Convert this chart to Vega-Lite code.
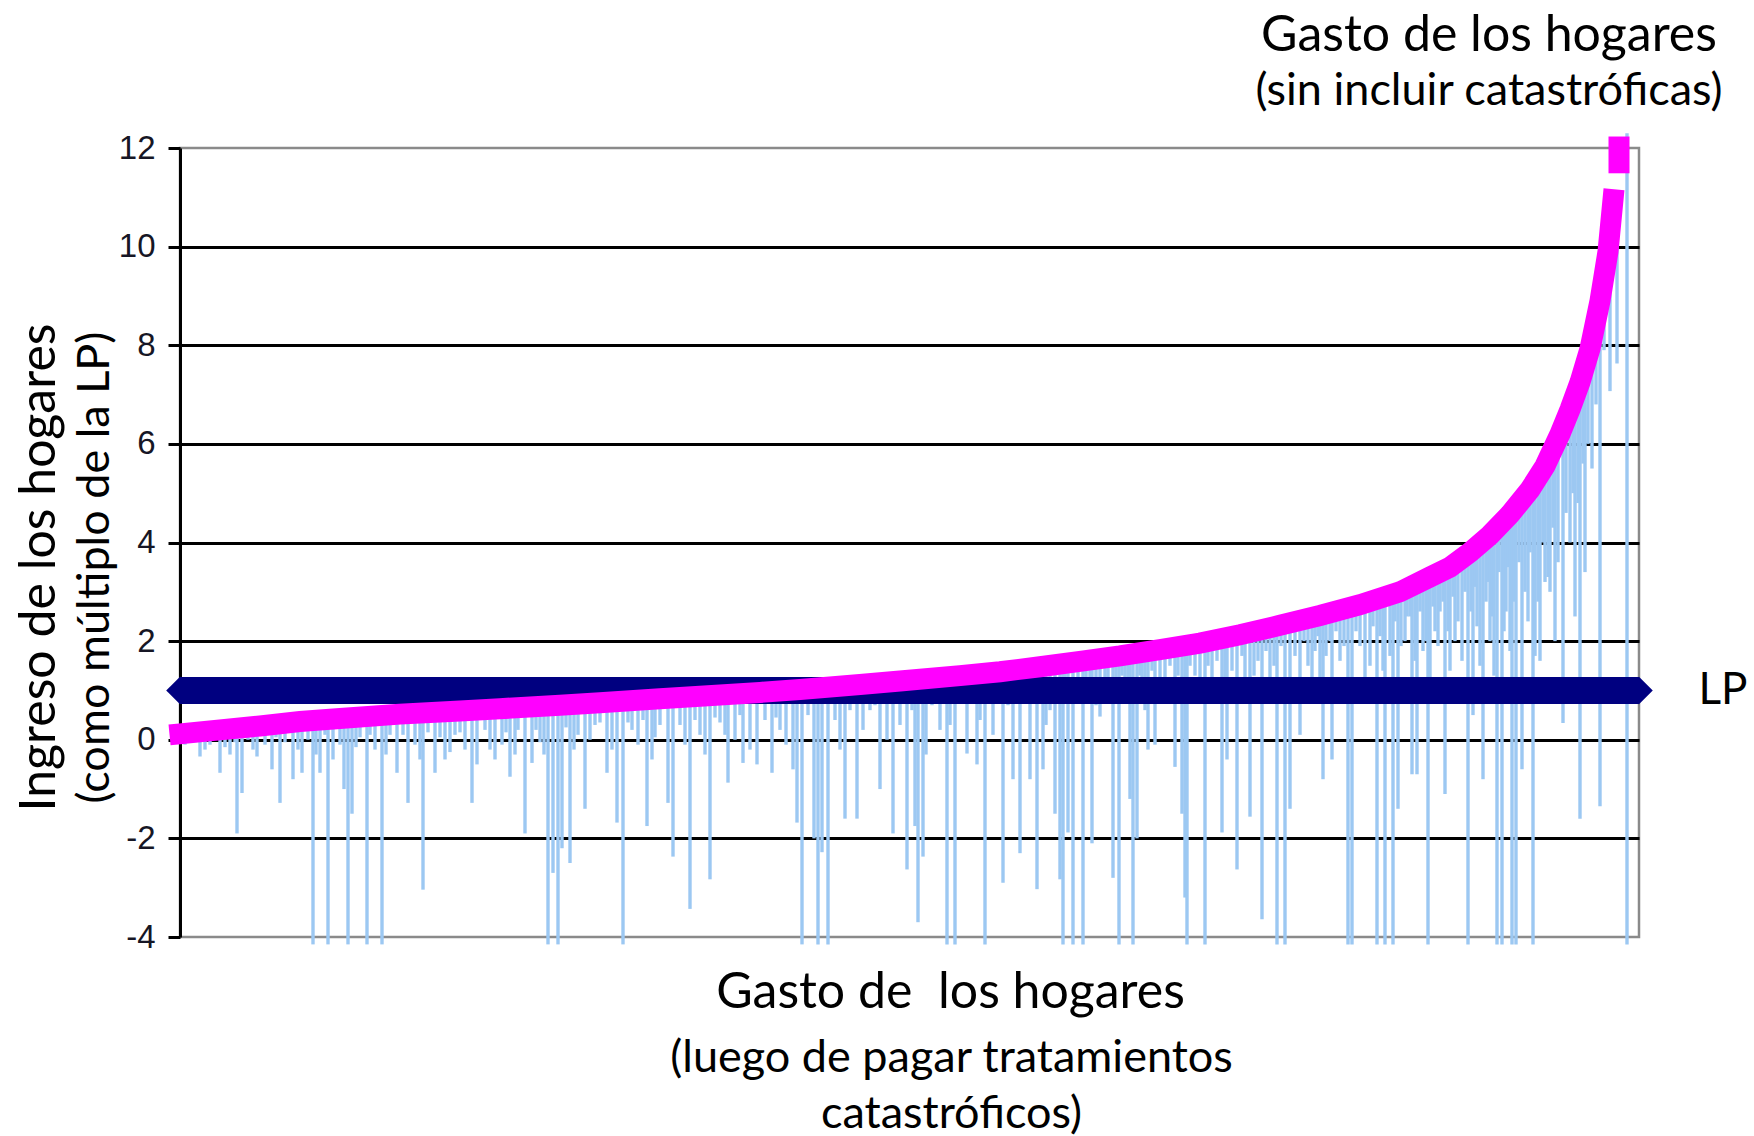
{
  "$schema": "https://vega.github.io/schema/vega-lite/v6.json",
  "width": 1459,
  "height": 789,
  "autosize": "none",
  "padding": {"left": 180, "top": 148, "right": 115, "bottom": 199},
  "background": "white",
  "config": {"view": {"stroke": "#8a8a8a", "strokeWidth": 2.5}},
  "title": {
    "text": "Gasto de los hogares",
    "subtitle": "(sin incluir catastróficas)",
    "anchor": "end",
    "align": "center",
    "dx": -150,
    "frame": "group",
    "font": "Lato",
    "fontSize": 50,
    "fontWeight": "normal",
    "color": "black",
    "subtitleFont": "Lato",
    "subtitleFontSize": 45,
    "subtitleColor": "black",
    "subtitlePadding": 8,
    "offset": -9
  },
  "datasets": {
    "barras": [
      {"h":5,"a":0.13,"b":-0.1},{"h":8,"a":0.135,"b":0.0},{"h":15,"a":0.15,"b":-0.05},{"h":20,"a":0.16,"b":-0.34},{"h":25,"a":0.17,"b":-0.2},{"h":30,"a":0.18,"b":-0.1},{"h":35,"a":0.19,"b":0.0},{"h":40,"a":0.2,"b":-0.67},{"h":45,"a":0.21,"b":-0.15},{"h":50,"a":0.22,"b":-0.3},{"h":55,"a":0.23,"b":-0.05},{"h":57,"a":0.23,"b":-1.9},{"h":62,"a":0.24,"b":-1.08},{"h":68,"a":0.26,"b":0.0},{"h":73,"a":0.27,"b":-0.2},{"h":77,"a":0.27,"b":-0.34},{"h":85,"a":0.29,"b":-0.1},{"h":92,"a":0.31,"b":-0.6},{"h":96,"a":0.32,"b":0.05},{"h":100,"a":0.33,"b":-1.28},{"h":105,"a":0.34,"b":-0.05},{"h":113,"a":0.36,"b":-0.8},{"h":118,"a":0.37,"b":-0.2},{"h":122,"a":0.37,"b":-0.67},{"h":128,"a":0.38,"b":0.0},{"h":133,"a":0.39,"b":-4.15},{"h":136,"a":0.395,"b":-0.3},{"h":140,"a":0.4,"b":-0.67},{"h":145,"a":0.41,"b":0.1},{"h":148,"a":0.41,"b":-4.15},{"h":153,"a":0.42,"b":-0.4},{"h":160,"a":0.43,"b":-0.1},{"h":164,"a":0.44,"b":-1.0},{"h":168,"a":0.44,"b":-4.15},{"h":172,"a":0.45,"b":-1.5},{"h":176,"a":0.455,"b":-0.15},{"h":180,"a":0.46,"b":0.05},{"h":187,"a":0.47,"b":-4.15},{"h":190,"a":0.475,"b":0.1},{"h":195,"a":0.48,"b":-0.2},{"h":202,"a":0.49,"b":-4.15},{"h":206,"a":0.5,"b":-0.3},{"h":210,"a":0.5,"b":0.1},{"h":217,"a":0.51,"b":-0.67},{"h":223,"a":0.525,"b":0.1},{"h":228,"a":0.53,"b":-1.28},{"h":235,"a":0.535,"b":-0.1},{"h":240,"a":0.54,"b":-0.4},{"h":243,"a":0.54,"b":-3.04},{"h":248,"a":0.55,"b":0.15},{"h":255,"a":0.55,"b":-0.67},{"h":260,"a":0.56,"b":0.05},{"h":265,"a":0.57,"b":-0.4},{"h":270,"a":0.575,"b":-0.25},{"h":275,"a":0.58,"b":0.1},{"h":280,"a":0.585,"b":0.15},{"h":285,"a":0.59,"b":-0.2},{"h":292,"a":0.6,"b":-1.28},{"h":297,"a":0.6,"b":-0.5},{"h":305,"a":0.615,"b":0.2},{"h":310,"a":0.62,"b":-0.2},{"h":315,"a":0.62,"b":-0.4},{"h":322,"a":0.63,"b":-0.1},{"h":326,"a":0.63,"b":0.15},{"h":330,"a":0.64,"b":-0.75},{"h":335,"a":0.645,"b":-0.3},{"h":338,"a":0.65,"b":0.2},{"h":345,"a":0.66,"b":-1.9},{"h":352,"a":0.67,"b":-0.47},{"h":356,"a":0.675,"b":0.2},{"h":360,"a":0.68,"b":-0.05},{"h":364,"a":0.685,"b":-0.3},{"h":368,"a":0.69,"b":-4.15},{"h":373,"a":0.69,"b":-2.7},{"h":378,"a":0.7,"b":-4.15},{"h":382,"a":0.7,"b":-2.2},{"h":386,"a":0.71,"b":0.25},{"h":390,"a":0.71,"b":-2.5},{"h":394,"a":0.72,"b":-0.2},{"h":398,"a":0.73,"b":0.1},{"h":405,"a":0.73,"b":-1.4},{"h":410,"a":0.74,"b":0.0},{"h":415,"a":0.745,"b":0.3},{"h":420,"a":0.75,"b":0.35},{"h":427,"a":0.76,"b":-0.67},{"h":432,"a":0.77,"b":-0.2},{"h":437,"a":0.78,"b":-1.68},{"h":443,"a":0.78,"b":-4.15},{"h":448,"a":0.785,"b":0.35},{"h":452,"a":0.79,"b":0.2},{"h":458,"a":0.8,"b":-0.1},{"h":463,"a":0.805,"b":0.4},{"h":467,"a":0.81,"b":-1.75},{"h":472,"a":0.815,"b":-0.4},{"h":475,"a":0.82,"b":0.05},{"h":480,"a":0.83,"b":0.3},{"h":488,"a":0.84,"b":-1.28},{"h":493,"a":0.85,"b":-2.37},{"h":500,"a":0.85,"b":0.3},{"h":505,"a":0.86,"b":-0.1},{"h":510,"a":0.87,"b":-3.43},{"h":515,"a":0.875,"b":0.4},{"h":520,"a":0.88,"b":0.1},{"h":525,"a":0.89,"b":-0.3},{"h":530,"a":0.9,"b":-2.83},{"h":535,"a":0.9,"b":0.45},{"h":540,"a":0.91,"b":0.35},{"h":545,"a":0.915,"b":0.1},{"h":548,"a":0.92,"b":-0.87},{"h":555,"a":0.93,"b":0.0},{"h":560,"a":0.94,"b":0.5},{"h":563,"a":0.94,"b":-0.47},{"h":570,"a":0.95,"b":-0.2},{"h":577,"a":0.96,"b":-0.5},{"h":585,"a":0.97,"b":0.4},{"h":592,"a":0.98,"b":-0.67},{"h":596,"a":0.985,"b":0.45},{"h":600,"a":0.99,"b":0.2},{"h":606,"a":1.0,"b":-0.1},{"h":613,"a":1.01,"b":-0.6},{"h":617,"a":1.02,"b":-1.68},{"h":622,"a":1.02,"b":-4.15},{"h":628,"a":1.03,"b":0.5},{"h":634,"a":1.04,"b":-2.0},{"h":638,"a":1.05,"b":-4.15},{"h":642,"a":1.05,"b":-2.28},{"h":648,"a":1.06,"b":-4.15},{"h":655,"a":1.08,"b":0.4},{"h":660,"a":1.085,"b":-0.2},{"h":665,"a":1.09,"b":-1.6},{"h":670,"a":1.1,"b":0.6},{"h":677,"a":1.12,"b":-1.6},{"h":683,"a":1.125,"b":0.2},{"h":690,"a":1.14,"b":0.6},{"h":695,"a":1.15,"b":0.7},{"h":700,"a":1.16,"b":-1.0},{"h":707,"a":1.17,"b":0.0},{"h":713,"a":1.18,"b":-1.9},{"h":720,"a":1.19,"b":0.3},{"h":727,"a":1.2,"b":-2.63},{"h":732,"a":1.21,"b":0.6},{"h":735,"a":1.22,"b":-1.75},{"h":738,"a":1.22,"b":-3.7},{"h":743,"a":1.23,"b":-2.37},{"h":746,"a":1.24,"b":-0.3},{"h":752,"a":1.25,"b":0.7},{"h":756,"a":1.26,"b":0.8},{"h":760,"a":1.27,"b":0.2},{"h":767,"a":1.28,"b":-4.15},{"h":770,"a":1.285,"b":0.3},{"h":775,"a":1.29,"b":-4.15},{"h":780,"a":1.3,"b":0.8},{"h":787,"a":1.31,"b":-0.28},{"h":792,"a":1.32,"b":0.9},{"h":797,"a":1.33,"b":-0.5},{"h":800,"a":1.34,"b":0.4},{"h":805,"a":1.35,"b":-4.15},{"h":813,"a":1.36,"b":0.1},{"h":818,"a":1.37,"b":0.9},{"h":823,"a":1.39,"b":-2.9},{"h":828,"a":1.4,"b":0.7},{"h":833,"a":1.41,"b":-0.8},{"h":836,"a":1.42,"b":0.9},{"h":840,"a":1.43,"b":-2.3},{"h":845,"a":1.44,"b":1.0},{"h":850,"a":1.45,"b":-0.8},{"h":855,"a":1.46,"b":1.0},{"h":857,"a":1.47,"b":-3.03},{"h":863,"a":1.49,"b":-0.6},{"h":866,"a":1.5,"b":0.3},{"h":870,"a":1.51,"b":0.6},{"h":875,"a":1.52,"b":-1.5},{"h":880,"a":1.54,"b":-2.83},{"h":883,"a":1.55,"b":-4.15},{"h":885,"a":1.55,"b":1.1},{"h":888,"a":1.56,"b":-1.88},{"h":893,"a":1.57,"b":-4.15},{"h":898,"a":1.58,"b":1.0},{"h":903,"a":1.6,"b":-4.15},{"h":906,"a":1.61,"b":1.1},{"h":910,"a":1.62,"b":0.9},{"h":912,"a":1.62,"b":-2.1},{"h":916,"a":1.63,"b":0.7},{"h":920,"a":1.64,"b":0.47},{"h":925,"a":1.66,"b":1.2},{"h":928,"a":1.67,"b":1.1},{"h":933,"a":1.68,"b":-2.8},{"h":936,"a":1.69,"b":1.0},{"h":939,"a":1.7,"b":-4.15},{"h":942,"a":1.71,"b":1.3},{"h":945,"a":1.72,"b":0.8},{"h":948,"a":1.72,"b":1.2},{"h":950,"a":1.73,"b":-1.2},{"h":953,"a":1.74,"b":-4.15},{"h":957,"a":1.75,"b":-2.0},{"h":960,"a":1.76,"b":1.3},{"h":962,"a":1.77,"b":1.2},{"h":965,"a":1.78,"b":0.6},{"h":968,"a":1.79,"b":-0.2},{"h":972,"a":1.81,"b":1.4},{"h":975,"a":1.82,"b":-0.1},{"h":980,"a":1.83,"b":1.1},{"h":985,"a":1.85,"b":1.0},{"h":990,"a":1.87,"b":1.5},{"h":995,"a":1.88,"b":-0.55},{"h":998,"a":1.89,"b":1.3},{"h":1002,"a":1.91,"b":-1.5},{"h":1005,"a":1.92,"b":-3.2},{"h":1007,"a":1.92,"b":-4.15},{"h":1010,"a":1.93,"b":1.5},{"h":1015,"a":1.95,"b":1.3},{"h":1020,"a":1.96,"b":1.2},{"h":1025,"a":1.98,"b":-4.15},{"h":1028,"a":2.0,"b":1.5},{"h":1032,"a":2.01,"b":1.0},{"h":1037,"a":2.03,"b":1.6},{"h":1042,"a":2.05,"b":-1.88},{"h":1045,"a":2.06,"b":1.2},{"h":1047,"a":2.07,"b":-0.4},{"h":1052,"a":2.1,"b":1.4},{"h":1057,"a":2.12,"b":-2.63},{"h":1062,"a":2.14,"b":1.7},{"h":1065,"a":2.15,"b":1.2},{"h":1070,"a":2.17,"b":-1.56},{"h":1074,"a":2.19,"b":1.3},{"h":1078,"a":2.21,"b":1.6},{"h":1082,"a":2.23,"b":-3.64},{"h":1086,"a":2.25,"b":1.8},{"h":1090,"a":2.27,"b":1.0},{"h":1094,"a":2.29,"b":1.5},{"h":1097,"a":2.31,"b":-4.15},{"h":1101,"a":2.33,"b":1.9},{"h":1105,"a":2.35,"b":-4.15},{"h":1110,"a":2.37,"b":-1.4},{"h":1115,"a":2.4,"b":1.7},{"h":1120,"a":2.42,"b":0.1},{"h":1124,"a":2.44,"b":2.0},{"h":1128,"a":2.46,"b":1.5},{"h":1132,"a":2.48,"b":1.1},{"h":1135,"a":2.5,"b":1.8},{"h":1138,"a":2.51,"b":2.1},{"h":1140,"a":2.52,"b":1.2},{"h":1143,"a":2.54,"b":-0.8},{"h":1146,"a":2.55,"b":1.7},{"h":1150,"a":2.57,"b":2.0},{"h":1152,"a":2.58,"b":-0.4},{"h":1156,"a":2.6,"b":2.2},{"h":1160,"a":2.63,"b":1.6},{"h":1164,"a":2.65,"b":1.9},{"h":1168,"a":2.67,"b":-4.15},{"h":1172,"a":2.7,"b":-4.15},{"h":1176,"a":2.72,"b":2.2},{"h":1180,"a":2.74,"b":1.9},{"h":1185,"a":2.77,"b":1.2},{"h":1190,"a":2.8,"b":1.5},{"h":1193,"a":2.82,"b":2.3},{"h":1197,"a":2.85,"b":-4.15},{"h":1200,"a":2.87,"b":2.1},{"h":1203,"a":2.89,"b":1.4},{"h":1205,"a":2.9,"b":-4.15},{"h":1210,"a":2.94,"b":1.7},{"h":1213,"a":2.95,"b":-4.15},{"h":1215,"a":2.97,"b":2.4},{"h":1218,"a":2.99,"b":-1.4},{"h":1221,"a":3.0,"b":1.9},{"h":1225,"a":3.05,"b":2.0},{"h":1227,"a":3.07,"b":2.5},{"h":1230,"a":3.1,"b":2.5},{"h":1232,"a":3.12,"b":-0.7},{"h":1235,"a":3.15,"b":1.6},{"h":1237,"a":3.17,"b":-0.7},{"h":1240,"a":3.2,"b":2.6},{"h":1243,"a":3.23,"b":1.8},{"h":1246,"a":3.26,"b":2.0},{"h":1248,"a":3.28,"b":-4.15},{"h":1250,"a":3.3,"b":1.2},{"h":1253,"a":3.33,"b":2.7},{"h":1255,"a":3.35,"b":2.2},{"h":1258,"a":3.38,"b":1.9},{"h":1260,"a":3.4,"b":2.6},{"h":1263,"a":3.43,"b":2.8},{"h":1265,"a":3.45,"b":-1.1},{"h":1268,"a":3.48,"b":2.2},{"h":1270,"a":3.5,"b":1.4},{"h":1273,"a":3.54,"b":2.9},{"h":1275,"a":3.57,"b":2.0},{"h":1278,"a":3.62,"b":2.4},{"h":1282,"a":3.68,"b":1.6},{"h":1285,"a":3.72,"b":3.0},{"h":1288,"a":3.77,"b":-4.15},{"h":1291,"a":3.82,"b":2.6},{"h":1293,"a":3.84,"b":0.5},{"h":1295,"a":3.87,"b":3.1},{"h":1297,"a":3.9,"b":2.3},{"h":1300,"a":3.95,"b":1.5},{"h":1303,"a":4.01,"b":-0.8},{"h":1306,"a":4.07,"b":2.8},{"h":1308,"a":4.11,"b":3.2},{"h":1310,"a":4.15,"b":2.0},{"h":1312,"a":4.19,"b":2.5},{"h":1314,"a":4.23,"b":1.3},{"h":1317,"a":4.29,"b":-4.15},{"h":1319,"a":4.33,"b":3.4},{"h":1322,"a":4.4,"b":-4.15},{"h":1324,"a":4.44,"b":2.2},{"h":1326,"a":4.48,"b":2.6},{"h":1328,"a":4.52,"b":3.5},{"h":1330,"a":4.57,"b":1.8},{"h":1332,"a":4.62,"b":-4.15},{"h":1334,"a":4.66,"b":2.8},{"h":1336,"a":4.71,"b":-4.15},{"h":1339,"a":4.78,"b":3.6},{"h":1342,"a":4.85,"b":-0.6},{"h":1345,"a":4.93,"b":3.0},{"h":1348,"a":5.0,"b":2.4},{"h":1350,"a":5.07,"b":3.8},{"h":1353,"a":5.15,"b":-4.15},{"h":1355,"a":5.2,"b":1.7},{"h":1358,"a":5.28,"b":2.8},{"h":1360,"a":5.35,"b":1.6},{"h":1363,"a":5.47,"b":4.0},{"h":1365,"a":5.55,"b":3.2},{"h":1368,"a":5.67,"b":3.3},{"h":1370,"a":5.75,"b":3.0},{"h":1373,"a":5.87,"b":4.3},{"h":1375,"a":5.95,"b":2.0},{"h":1378,"a":6.1,"b":3.6},{"h":1383,"a":6.35,"b":0.34},{"h":1386,"a":6.5,"b":4.6},{"h":1390,"a":6.7,"b":4.0},{"h":1393,"a":6.85,"b":5.0},{"h":1395,"a":6.95,"b":2.5},{"h":1398,"a":7.14,"b":4.8},{"h":1400,"a":7.25,"b":-1.6},{"h":1403,"a":7.45,"b":5.6},{"h":1405,"a":7.6,"b":3.4},{"h":1408,"a":7.8,"b":6.0},{"h":1412,"a":8.1,"b":5.5},{"h":1416,"a":8.5,"b":6.8},{"h":1420,"a":8.9,"b":-1.35},{"h":1424,"a":9.4,"b":7.9},{"h":1430,"a":10.2,"b":7.07},{"h":1437,"a":11.0,"b":7.63},{"h":1447,"a":12.3,"b":-4.15}
    ],
    "curva": [
      {"h":0,"v":0.12,"s":1},{"h":40,"v":0.2,"s":1},{"h":80,"v":0.28,"s":1},{"h":120,"v":0.37,"s":1},{"h":160,"v":0.43,"s":1},{"h":220,"v":0.52,"s":1},{"h":280,"v":0.585,"s":1},{"h":320,"v":0.63,"s":1},{"h":380,"v":0.7,"s":1},{"h":420,"v":0.75,"s":1},{"h":480,"v":0.83,"s":1},{"h":520,"v":0.88,"s":1},{"h":580,"v":0.96,"s":1},{"h":620,"v":1.02,"s":1},{"h":680,"v":1.12,"s":1},{"h":720,"v":1.19,"s":1},{"h":780,"v":1.3,"s":1},{"h":820,"v":1.38,"s":1},{"h":860,"v":1.48,"s":1},{"h":900,"v":1.59,"s":1},{"h":940,"v":1.7,"s":1},{"h":980,"v":1.83,"s":1},{"h":1020,"v":1.96,"s":1},{"h":1060,"v":2.13,"s":1},{"h":1100,"v":2.32,"s":1},{"h":1140,"v":2.52,"s":1},{"h":1180,"v":2.74,"s":1},{"h":1220,"v":3.0,"s":1},{"h":1250,"v":3.3,"s":1},{"h":1270,"v":3.5,"s":1},{"h":1290,"v":3.8,"s":1},{"h":1310,"v":4.15,"s":1},{"h":1330,"v":4.57,"s":1},{"h":1350,"v":5.07,"s":1},{"h":1365,"v":5.55,"s":1},{"h":1380,"v":6.2,"s":1},{"h":1390,"v":6.7,"s":1},{"h":1400,"v":7.25,"s":1},{"h":1410,"v":7.93,"s":1},{"h":1420,"v":8.9,"s":1},{"h":1428,"v":9.9,"s":1},{"h":1433,"v":10.95,"s":1},
      {"h":1439,"v":11.7,"s":2},{"h":1439,"v":12.02,"s":2}
    ],
    "lp": [{"h":0,"v":1},{"h":1459,"v":1}]
  },
  "layer": [
    {
      "data": {"name": "barras"},
      "mark": {"type": "rule", "color": "#9cc8f2", "strokeWidth": 3.4},
      "encoding": {
        "x": {
          "field": "h", "type": "quantitative",
          "scale": {"domain": [0, 1459], "nice": false, "zero": false},
          "axis": {
            "title": "Gasto de\u00a0 los hogares",
            "labels": false, "ticks": false, "domain": false, "grid": false,
            "titleFont": "Lato", "titleFontSize": 50, "titleFontWeight": "normal", "titleColor": "black",
            "titlePadding": 30, "titleX": 770
          }
        },
        "y": {
          "field": "a", "type": "quantitative",
          "scale": {"domain": [-4, 12], "nice": false, "zero": false},
          "axis": {
            "values": [-4, -2, 0, 2, 4, 6, 8, 10, 12],
            "labelExpr": "'' + datum.value",
            "grid": true,
            "gridColor": {"condition": {"test": "datum.value == 12 || datum.value == -4", "value": "transparent"}, "value": "black"},
            "gridWidth": 3,
            "domainColor": "black", "domainWidth": 3,
            "tickColor": "black", "tickWidth": 3, "tickSize": 12,
            "labelFont": "Liberation Sans", "labelFontSize": 33, "labelColor": "#161625", "labelPadding": 13,
            "title": "(como múltiplo de la LP)",
            "titleFont": "Lato", "titleFontSize": 45, "titleFontWeight": "normal", "titleColor": "black",
            "titlePadding": 1, "titleY": 419
          }
        },
        "y2": {"field": "b"}
      }
    },
    {
      "data": {"name": "lp"},
      "encoding": {
        "x": {"field": "h", "type": "quantitative", "scale": {"domain": [0, 1459], "nice": false, "zero": false}, "axis": null},
        "y": {
          "field": "v", "type": "quantitative",
          "scale": {"domain": [-4, 12], "nice": false, "zero": false},
          "axis": {
            "orient": "right", "values": [1], "labelExpr": "'LP'",
            "ticks": false, "tickSize": 0, "domain": false, "grid": false,
            "labelFont": "Lato", "labelFontSize": 44, "labelColor": "black", "labelPadding": 59,
            "title": null
          }
        }
      },
      "layer": [
        {"mark": {"type": "line", "color": "#000080", "strokeWidth": 27, "strokeCap": "butt"}},
        {"mark": {"type": "point", "shape": "diamond", "filled": true, "color": "#000080", "size": 760, "opacity": 1}}
      ]
    },
    {
      "data": {"name": "curva"},
      "mark": {"type": "line", "color": "#ff00ff", "strokeWidth": 21, "strokeCap": "square", "strokeJoin": "miter"},
      "encoding": {
        "x": {
          "field": "h", "type": "quantitative",
          "scale": {"domain": [0, 1459], "nice": false, "zero": false},
          "axis": {
            "orient": "bottom",
            "title": ["(luego de pagar tratamientos", "catastróficos)"],
            "labels": false, "ticks": false, "domain": false, "grid": false,
            "titleFont": "Lato", "titleFontSize": 45, "titleFontWeight": "normal", "titleColor": "black",
            "titleLineHeight": 56, "titlePadding": 98, "titleX": 771
          }
        },
        "y": {
          "field": "v", "type": "quantitative",
          "scale": {"domain": [-4, 12], "nice": false, "zero": false},
          "axis": {
            "orient": "left",
            "labels": false, "ticks": false, "domain": false, "grid": false,
            "title": "Ingreso de los hogares",
            "titleFont": "Lato", "titleFontSize": 50, "titleFontWeight": "normal", "titleColor": "black",
            "titlePadding": 116, "titleY": 419
          }
        },
        "detail": {"field": "s", "type": "nominal"}
      }
    }
  ],
  "resolve": {
    "scale": {"x": "independent", "y": "independent"},
    "axis": {"x": "independent", "y": "independent"}
  }
}
